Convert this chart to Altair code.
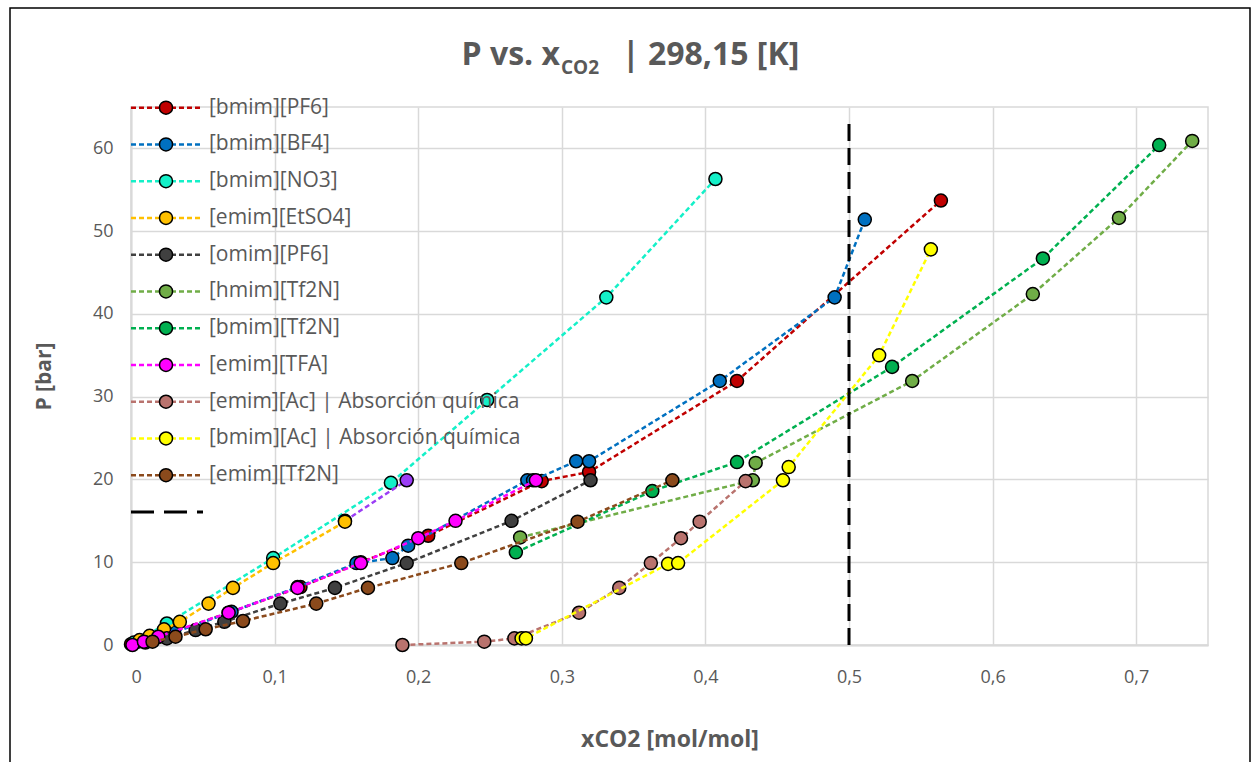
import altair as alt
import pandas as pd

# ---------------- data ----------------
names = ["[bmim][PF6]", "[bmim][BF4]", "[bmim][NO3]", "[emim][EtSO4]", "[omim][PF6]",
         "[hmim][Tf2N]", "[bmim][Tf2N]", "[emim][TFA]",
         "[emim][Ac] | Absorción química", "[bmim][Ac] | Absorción química", "[emim][Tf2N]"]
colors = ["#C00000", "#0070C0", "#14F0C8", "#FFC000", "#404040",
          "#70AD47", "#00B050", "#FF00FF", "#B9736E", "#FFFF00", "#8B4A1C"]

bmim_pf6_x = [0.000, 0.020, 0.068, 0.118, 0.160, 0.207, 0.286, 0.319, 0.422, 0.564]
bmim_pf6_y = [0.1, 1.0, 3.9, 7.0, 10.0, 13.2, 19.8, 20.9, 31.9, 53.7]

bmim_bf4_x = [0.005, 0.030, 0.070, 0.116, 0.157, 0.182, 0.193, 0.276, 0.280, 0.310, 0.319, 0.410, 0.490, 0.511]
bmim_bf4_y = [0.4, 1.5, 4.0, 7.0, 9.9, 10.5, 12.0, 19.9, 19.9, 22.2, 22.2, 31.9, 42.0, 51.4]

bmim_no3_x = [0.002, 0.025, 0.099, 0.181, 0.248, 0.331, 0.407]
bmim_no3_y = [0.3, 2.6, 10.5, 19.6, 29.6, 42.0, 56.3]

emim_etso4_x = [0.006, 0.013, 0.023, 0.034, 0.054, 0.071, 0.099, 0.149]
emim_etso4_y = [0.6, 1.1, 1.9, 2.8, 5.0, 6.9, 9.9, 14.9]

omim_pf6_x = [0.010, 0.025, 0.045, 0.065, 0.104, 0.142, 0.192, 0.265, 0.320]
omim_pf6_y = [0.3, 0.8, 1.8, 2.8, 5.0, 6.9, 9.9, 15.0, 19.9]

hmim_tf2n_x = [0.271, 0.433, 0.435, 0.544, 0.628, 0.688, 0.739]
hmim_tf2n_y = [13.0, 19.9, 22.0, 31.9, 42.4, 51.6, 60.9]

bmim_tf2n_x = [0.268, 0.363, 0.422, 0.530, 0.635, 0.716]
bmim_tf2n_y = [11.2, 18.6, 22.1, 33.6, 46.7, 60.4]

emim_tfa_x = [0.001, 0.009, 0.019, 0.068, 0.116, 0.160, 0.200, 0.226, 0.282]
emim_tfa_y = [0.0, 0.4, 1.0, 3.9, 6.9, 9.9, 12.9, 15.0, 19.9]

emim_ac_x = [0.189, 0.246, 0.267, 0.312, 0.340, 0.362, 0.383, 0.396, 0.428]
emim_ac_y = [0.0, 0.4, 0.8, 3.9, 6.9, 9.9, 12.9, 14.9, 19.8]

bmim_ac_x = [0.272, 0.275, 0.374, 0.381, 0.454, 0.458, 0.521, 0.557]
bmim_ac_y = [0.8, 0.8, 9.8, 9.9, 19.9, 21.5, 35.0, 47.8]

emim_tf2n_x = [0.015, 0.031, 0.052, 0.078, 0.129, 0.165, 0.230, 0.311, 0.377]
emim_tf2n_y = [0.4, 1.0, 1.9, 2.9, 5.0, 6.9, 9.9, 14.9, 19.9]

# extra series (purple, not shown in the legend)
extra_x = [0.149, 0.192]
extra_y = [15.0, 19.9]
extra_color = "#9B3DF5"

# vertical reference line
ref_x = 0.5
ref_y = [0, 63]

x_ticks = [0, 0.1, 0.2, 0.3, 0.4, 0.5, 0.6, 0.7]
y_ticks = [0, 10, 20, 30, 40, 50, 60]

series_x = [bmim_pf6_x, bmim_bf4_x, bmim_no3_x, emim_etso4_x, omim_pf6_x, hmim_tf2n_x,
            bmim_tf2n_x, emim_tfa_x, emim_ac_x, bmim_ac_x, emim_tf2n_x]
series_y = [bmim_pf6_y, bmim_bf4_y, bmim_no3_y, emim_etso4_y, omim_pf6_y, hmim_tf2n_y,
            bmim_tf2n_y, emim_tfa_y, emim_ac_y, bmim_ac_y, emim_tf2n_y]

FONT = "Open Sans"
GRAY = "#595959"

X = alt.X("x:Q", scale=alt.Scale(domain=[0, 0.75], nice=False),
          axis=alt.Axis(values=x_ticks, title="xCO2 [mol/mol]",
                        labelExpr="datum.value == 0 ? '0' : replace(format(datum.value, '.1f'), '.', ',')"))
Y = alt.Y("P:Q", scale=alt.Scale(domain=[0, 65], nice=False),
          axis=alt.Axis(values=y_ticks, title="P [bar]"))


def series_layers(xs, ys, color):
    df = pd.DataFrame({"x": xs, "P": ys, "i": list(range(len(xs)))})
    line = alt.Chart(df).mark_line(color=color, strokeDash=[5, 3], strokeWidth=2.5).encode(
        x=X, y=Y, order="i:Q")
    pts = alt.Chart(df).mark_circle(size=170, color=color, opacity=1, stroke="black",
                                    strokeWidth=1.5).encode(x=X, y=Y)
    return [line, pts]


main_layers = []
for k in range(len(names)):
    main_layers += series_layers(series_x[k], series_y[k], colors[k])
    if k == 2:
        main_layers += series_layers(extra_x, extra_y, extra_color)

ref_df = pd.DataFrame({"x": [ref_x], "P": [ref_y[0]], "P2": [ref_y[1]]})
ref_rule = alt.Chart(ref_df).mark_rule(color="black", strokeDash=[17, 7], strokeWidth=3).encode(
    x=X, y=Y, y2="P2:Q")
main_layers.append(ref_rule)

main = alt.layer(*main_layers)

# ---------------- legend ----------------
leg_df = pd.DataFrame({"name": names, "row": list(range(len(names)))})
LY = alt.Y("row:Q", scale=alt.Scale(domain=[-0.019, 14.62], reverse=True), axis=None)
LC = alt.Color("name:N", scale=alt.Scale(domain=names, range=colors), legend=None)

leg_rule = alt.Chart(leg_df).mark_rule(strokeDash=[5, 3], strokeWidth=2.5).encode(
    x=alt.value(0), x2=alt.value(72), y=LY, color=LC)
leg_pts = alt.Chart(leg_df).mark_circle(size=170, opacity=1, stroke="black", strokeWidth=1.5).encode(
    x=alt.value(35), y=LY, color=LC)
leg_txt = alt.Chart(leg_df).mark_text(align="left", baseline="middle", font=FONT, fontSize=21,
                                      color=GRAY).encode(x=alt.value(78), y=LY, text="name:N")
blk_df = pd.DataFrame({"row": [len(names)]})
leg_blk = alt.Chart(blk_df).mark_rule(color="black", strokeDash=[23, 10], strokeWidth=3).encode(
    x=alt.value(0), x2=alt.value(72), y=LY)

legend = alt.layer(leg_rule, leg_pts, leg_txt, leg_blk)

# ---------------- title & frame ----------------
title_df = pd.DataFrame({"a": ["P vs. x"], "b": ["CO2"], "c": ["| 298,15 [K]"]})
t1 = alt.Chart(title_df).mark_text(align="right", baseline="alphabetic", font=FONT, fontSize=32,
                                   fontWeight="bold", color=GRAY).encode(
    x=alt.value(429), y=alt.value(-42), text="a:N")
t2 = alt.Chart(title_df).mark_text(align="left", baseline="alphabetic", font=FONT, fontSize=19,
                                   fontWeight="bold", color=GRAY).encode(
    x=alt.value(430), y=alt.value-33 if False else alt.value(-33), text="b:N")
t3 = alt.Chart(title_df).mark_text(align="left", baseline="alphabetic", font=FONT, fontSize=32,
                                   fontWeight="bold", color=GRAY).encode(
    x=alt.value(491), y=alt.value(-42), text="c:N")
frame = alt.Chart(title_df).mark_rect(fillOpacity=0, stroke="black", strokeWidth=1.5).encode(
    x=alt.value(-121), x2=alt.value(1119), y=alt.value(-99), y2=alt.value(700))

chart = alt.layer(main, legend, t1, t2, t3, frame).resolve_scale(y="independent").properties(
    width=1077, height=538,
    autosize=alt.AutoSizeParams(type="none"),
    padding={"left": 131, "top": 107, "right": 49, "bottom": 117},
).configure_view(
    stroke="#D9D9D9", strokeWidth=1.5
).configure_axis(
    gridColor="#D9D9D9", gridWidth=1.5, domainColor="#D9D9D9", domainWidth=2,
    ticks=False, labelFont=FONT, labelFontSize=18, labelColor=GRAY,
    titleFont=FONT, titleFontSize=21, titleFontWeight="bold", titleColor=GRAY,
).configure_axisX(
    labelPadding=23, titlePadding=42, titleFontSize=23
).configure_axisY(
    labelPadding=18, titlePadding=38
)

chart.save("out.html", embed_options={"renderer": "svg", "actions": False})
